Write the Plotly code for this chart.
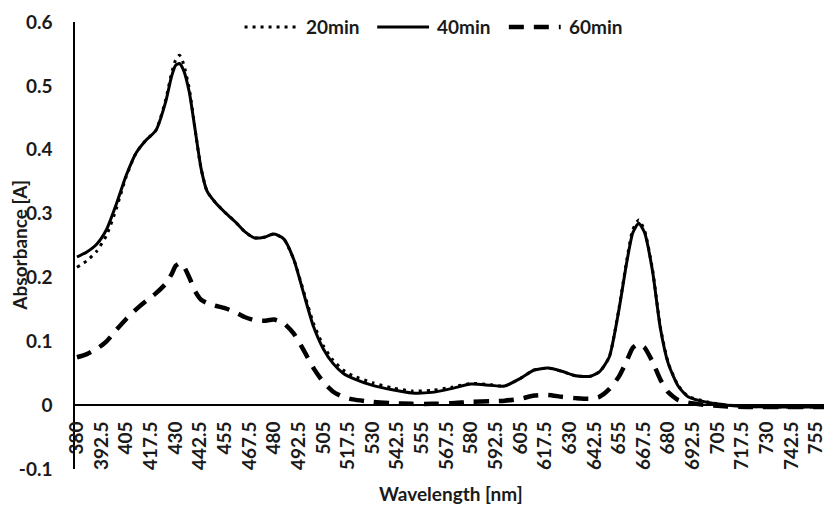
import plotly.graph_objects as go

# Wavelengths (nm)
wavelength = [380, 385, 390, 395, 400, 405, 410, 415, 420, 425, 428, 430, 432, 434, 437, 440,
              443, 446, 450, 455, 460, 465, 470, 475, 480, 485, 490, 495, 500, 505, 510, 515,
              520, 530, 540, 550, 560, 570, 580, 590, 597, 605, 612, 619, 626, 633, 640, 645,
              650, 655, 659, 662, 665, 668, 672, 676, 680, 685, 690, 700, 710, 720, 740, 760]

abs_20min = [0.216, 0.226, 0.241, 0.266, 0.308, 0.358, 0.395, 0.415, 0.430, 0.478, 0.520, 0.540,
             0.548, 0.535, 0.495, 0.430, 0.370, 0.335, 0.318, 0.302, 0.288, 0.272, 0.262, 0.263,
             0.268, 0.260, 0.228, 0.178, 0.128, 0.093, 0.070, 0.055, 0.046, 0.035, 0.027, 0.022,
             0.023, 0.028, 0.034, 0.032, 0.030, 0.042, 0.055, 0.058, 0.053, 0.046, 0.045, 0.052,
             0.075, 0.152, 0.228, 0.275, 0.290, 0.273, 0.212, 0.122, 0.066, 0.031, 0.014, 0.005,
             0.000, -0.002, -0.003, -0.003]

abs_40min = [0.232, 0.240, 0.252, 0.275, 0.315, 0.360, 0.395, 0.415, 0.430, 0.475, 0.515, 0.532,
             0.535, 0.525, 0.490, 0.430, 0.370, 0.335, 0.318, 0.302, 0.288, 0.272, 0.262, 0.263,
             0.268, 0.260, 0.228, 0.175, 0.123, 0.088, 0.065, 0.050, 0.042, 0.031, 0.024, 0.019,
             0.020, 0.026, 0.033, 0.031, 0.030, 0.042, 0.055, 0.058, 0.053, 0.046, 0.045, 0.052,
             0.075, 0.150, 0.225, 0.270, 0.285, 0.270, 0.210, 0.120, 0.065, 0.030, 0.013, 0.004,
             0.000, -0.002, -0.003, -0.003]

abs_60min = [0.075, 0.080, 0.088, 0.100, 0.118, 0.135, 0.150, 0.163, 0.175, 0.190, 0.205, 0.218,
             0.222, 0.218, 0.200, 0.178, 0.165, 0.160, 0.156, 0.152, 0.146, 0.138, 0.133, 0.132,
             0.134, 0.128, 0.112, 0.086, 0.058, 0.036, 0.021, 0.013, 0.009, 0.005, 0.003, 0.002,
             0.002, 0.003, 0.005, 0.006, 0.007, 0.010, 0.015, 0.016, 0.013, 0.011, 0.010, 0.013,
             0.025, 0.045, 0.070, 0.090, 0.096, 0.090, 0.068, 0.040, 0.020, 0.008, 0.004, 0.000,
             -0.002, -0.003, -0.003, -0.003]

series_names = ["20min", "40min", "60min"]

x_tick_vals = [380 + 12.5 * i for i in range(31)]
x_tick_text = ["380", "392.5", "405", "417.5", "430", "442.5", "455", "467.5", "480", "492.5",
               "505", "517.5", "530", "542.5", "555", "567.5", "580", "592.5", "605", "617.5",
               "630", "642.5", "655", "667.5", "680", "692.5", "705", "717.5", "730", "742.5", "755"]
y_tick_vals = [-0.1, 0, 0.1, 0.2, 0.3, 0.4, 0.5, 0.6]
y_tick_text = ["-0.1", "0", "0.1", "0.2", "0.3", "0.4", "0.5", "0.6"]

FONT = "Lato"
FS = 19
TXT = "#1a1a1a"

styles = [
    dict(color="black", width=3, dash="3px,5px"),
    dict(color="black", width=3),
    dict(color="black", width=4.5, dash="15px,10px"),
]

fig = go.Figure()
for name, vals, st in zip(series_names, [abs_20min, abs_40min, abs_60min], styles):
    fig.add_trace(go.Scatter(x=wavelength, y=vals, name=name, mode="lines",
                             line=dict(shape="spline", smoothing=0.6, **st)))

# manual legend (paper coordinates) so the line samples match the longer reference samples
L, W = 75, 751
def px(xp):
    return (xp - L) / W
leg_y = (469 - 27) / 447
leg_items = [(245, 297, 305), (378, 430, 436), (510, 562, 568)]
shapes = []
annotations = []
for (x0, x1, xt), name, st in zip(leg_items, series_names, styles):
    shapes.append(dict(type="line", xref="paper", yref="paper", x0=px(x0), x1=px(x1),
                       y0=leg_y, y1=leg_y, line=dict(color=st["color"], width=st["width"],
                                                     dash=st.get("dash", "solid"))))
    annotations.append(dict(text=name, x=px(xt), y=leg_y, xref="paper", yref="paper",
                            xanchor="left", yanchor="middle", showarrow=False,
                            font=dict(size=FS, family=FONT, weight="bold", color=TXT)))

annotations += [
    dict(text="Wavelength [nm]", x=0.502, y=-0.054, xref="paper", yref="paper",
         xanchor="center", yanchor="middle", showarrow=False,
         font=dict(size=FS, family=FONT, weight="bold", color=TXT)),
    dict(text="Absorbance [A]", x=px(19), y=0.5, xref="paper", yref="paper",
         xanchor="center", yanchor="middle", textangle=-90, showarrow=False,
         font=dict(size=FS, family=FONT, weight="bold", color=TXT)),
]

fig.update_layout(
    width=826, height=507,
    margin=dict(l=75, r=0, t=22, b=38),
    paper_bgcolor="white", plot_bgcolor="white",
    font=dict(family=FONT, size=FS, color=TXT, weight="bold"),
    showlegend=False,
    xaxis=dict(range=[379, 759], tickvals=x_tick_vals, ticktext=x_tick_text, tickangle=-90,
               showgrid=False, zeroline=False, showline=True, linecolor="black", linewidth=1.5,
               anchor="free", position=1 / 7, ticks="", ticklabelstandoff=8,
               ticklabeloverflow="allow",
               tickfont=dict(size=FS, family=FONT, weight="bold", color=TXT)),
    yaxis=dict(range=[-0.1, 0.6], tickvals=y_tick_vals, ticktext=y_tick_text,
               showgrid=False, zeroline=False, showline=True, linecolor="black", linewidth=1.5,
               ticks="", ticklabelstandoff=17,
               tickfont=dict(size=FS, family=FONT, weight="bold", color=TXT)),
    shapes=shapes,
    annotations=annotations,
)

fig.write_html("out.html")
